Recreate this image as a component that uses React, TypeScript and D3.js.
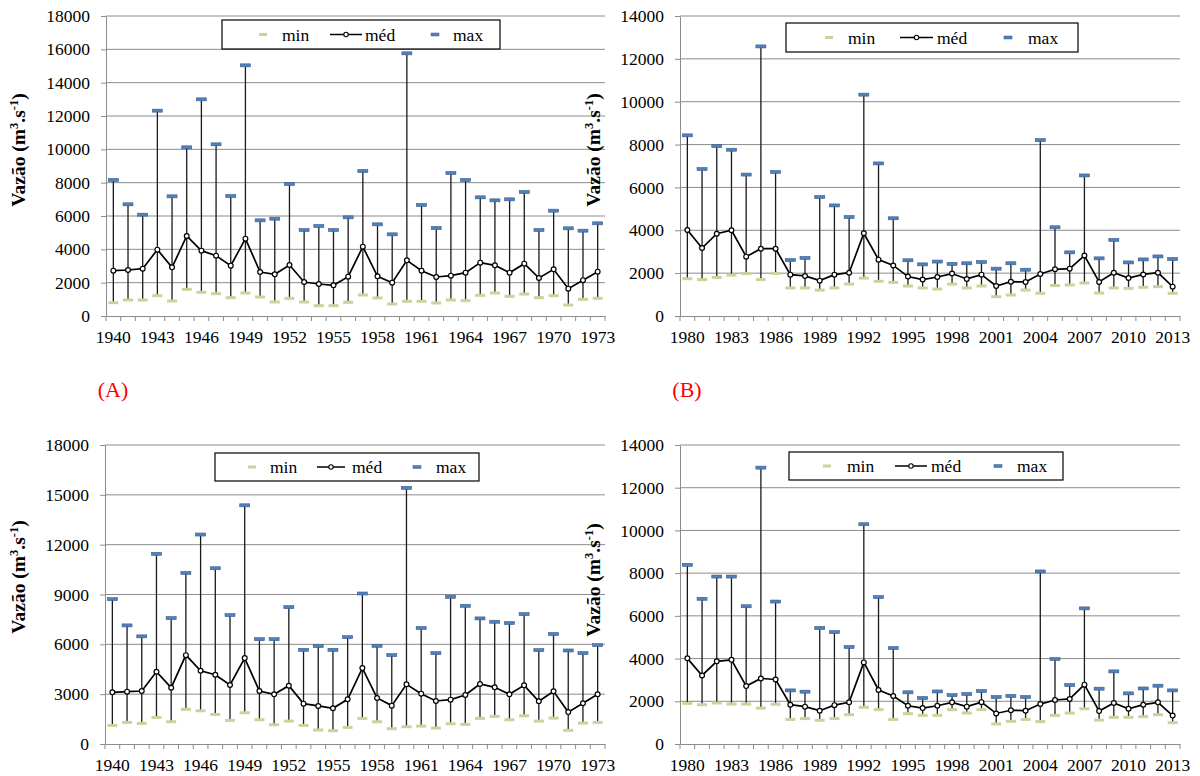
import React, { useRef, useEffect } from 'react';
import * as d3 from 'd3';

// categories
const yearsEarly = [
  1940, 1941, 1942, 1943, 1944, 1945, 1946, 1947, 1948, 1949,
  1950, 1951, 1952, 1953, 1954, 1955, 1956, 1957, 1958, 1959,
  1960, 1961, 1962, 1963, 1964, 1965, 1966, 1967, 1968, 1969,
  1970, 1971, 1972, 1973
];
const yearsLate = [
  1980, 1981, 1982, 1983, 1984, 1985, 1986, 1987, 1988, 1989,
  1990, 1991, 1992, 1993, 1994, 1995, 1996, 1997, 1998, 1999,
  2000, 2001, 2002, 2003, 2004, 2005, 2006, 2007, 2008, 2009,
  2010, 2011, 2012, 2013
];

// tick labels
const ticks18k2 = [0, 2000, 4000, 6000, 8000, 10000, 12000, 14000, 16000, 18000];
const ticks18k3 = [0, 3000, 6000, 9000, 12000, 15000, 18000];
const ticks14k = [0, 2000, 4000, 6000, 8000, 10000, 12000, 14000];

// panel A
const maxA = [
  8160, 6700, 6080, 12320, 7180, 10120, 13000, 10300, 7200, 15040,
  5740, 5840, 7920, 5160, 5400, 5160, 5920, 8700, 5500, 4900,
  15760, 6660, 5280, 8580, 8160, 7120, 6940, 7000, 7440, 5160,
  6320, 5260, 5120, 5560
];
const medA = [
  2720, 2760, 2840, 3980, 2920, 4800, 3920, 3620, 3020, 4640,
  2640, 2500, 3060, 2040, 1920, 1840, 2360, 4160, 2380, 2000,
  3340, 2720, 2340, 2420, 2600, 3200, 3040, 2600, 3140, 2280,
  2800, 1640, 2150, 2660
];
const minA = [
  800, 960, 960, 1220, 900, 1600, 1420, 1340, 1100, 1380,
  1140, 840, 1060, 840, 620, 620, 820, 1260, 1080, 720,
  880, 880, 780, 960, 920, 1240, 1380, 1180, 1320, 1100,
  1220, 660, 1000, 1060
];

// panel B
const maxB = [
  8430, 6860, 7930, 7760, 6600, 12580, 6720, 2610, 2710, 5550,
  5160, 4620, 10330, 7120, 4560, 2600, 2410, 2540, 2430, 2460,
  2520, 2210, 2460, 2160, 8210, 4140, 2970, 6560, 2690, 3550,
  2500, 2640, 2780, 2660
];
const medB = [
  4010, 3170, 3840, 4000, 2770, 3140, 3140, 1930, 1870, 1650,
  1930, 2020, 3860, 2630, 2360, 1840, 1700, 1820, 1980, 1730,
  1930, 1400, 1600, 1590, 1960, 2180, 2210, 2820, 1590, 2020,
  1770, 1940, 2020, 1370
];
const minB = [
  1740, 1700, 1800, 1910, 1980, 1700, 1990, 1310, 1310, 1210,
  1310, 1490, 1770, 1620, 1570, 1400, 1310, 1260, 1490, 1310,
  1400, 900, 980, 1210, 1060, 1420, 1450, 1540, 1070, 1310,
  1290, 1340, 1370, 1060
];

// panel C
const maxC = [
  8720, 7140, 6480, 11450, 7580, 10300, 12610, 10580, 7760, 14370,
  6310, 6310, 8240, 5670, 5890, 5670, 6430, 9060, 5910, 5350,
  15420, 6980, 5470, 8860, 8320, 7560, 7360, 7280, 7820, 5650,
  6620, 5630, 5470, 5950
];
const medC = [
  3110, 3150, 3190, 4350, 3390, 5350, 4410, 4170, 3550, 5170,
  3190, 2990, 3510, 2430, 2290, 2150, 2690, 4570, 2770, 2310,
  3590, 3030, 2590, 2670, 2950, 3610, 3410, 2990, 3530, 2570,
  3170, 1920, 2450, 2990
];
const minC = [
  1120, 1300, 1240, 1600, 1340, 2090, 2000, 1780, 1420, 1880,
  1460, 1160, 1380, 1120, 840, 800, 1000, 1540, 1340, 920,
  1040, 1080, 960, 1220, 1180, 1540, 1660, 1460, 1700, 1380,
  1560, 820, 1260, 1300
];

// panel D
const maxD = [
  8390, 6800, 7840, 7840, 6450, 12940, 6670, 2510, 2450, 5430,
  5240, 4540, 10290, 6880, 4490, 2420, 2150, 2460, 2290, 2340,
  2480, 2200, 2250, 2200, 8080, 3980, 2760, 6350, 2590, 3400,
  2370, 2600, 2730, 2510
];
const medD = [
  4010, 3210, 3870, 3940, 2710, 3070, 3020, 1840, 1750, 1560,
  1820, 1950, 3820, 2530, 2250, 1790, 1680, 1790, 1950, 1750,
  1960, 1430, 1580, 1560, 1870, 2060, 2110, 2780, 1540, 1920,
  1650, 1840, 1950, 1330
];
const minD = [
  1900, 1840, 1920, 1870, 1870, 1680, 1860, 1150, 1190, 1110,
  1190, 1370, 1720, 1610, 1150, 1420, 1340, 1340, 1610, 1450,
  1610, 940, 1060, 1150, 1050, 1340, 1450, 1650, 1120, 1250,
  1250, 1280, 1370, 1000
];

const FONT = "'Liberation Serif', 'Times New Roman', serif";
const GRID = '#8c8c8c';
const GREEN = '#c4d79b';
const BLUE = '#4f81bd';

const panels = [
  {
    cats: yearsEarly, mins: minA, meds: medA, maxs: maxA, yMax: 18000, ticks: ticks18k2,
    left: 106, right: 605, top: 16, bottom: 316, titleX: 18, titleY: 150,
    legend: { x: 222, y: 20, w: 278, h: 29, minX: 41, minT: 60, medX0: 108, medX1: 140, medT: 143, maxX: 213, maxT: 231 },
    tag: '(A)', tagX: 113
  },
  {
    cats: yearsLate, mins: minB, meds: medB, maxs: maxB, yMax: 14000, ticks: ticks14k,
    left: 680, right: 1180, top: 16, bottom: 316, titleX: 593, titleY: 150,
    legend: { x: 786, y: 23, w: 292, h: 29, minX: 43, minT: 62, medX0: 114, medX1: 147, medT: 151, maxX: 222, maxT: 242 },
    tag: '(B)', tagX: 687
  },
  {
    cats: yearsEarly, mins: minC, meds: medC, maxs: maxC, yMax: 18000, ticks: ticks18k3,
    left: 105, right: 605, top: 445, bottom: 744, titleX: 18, titleY: 577,
    legend: { x: 215, y: 453, w: 264, h: 28, minX: 37, minT: 55, medX0: 102, medX1: 130, medT: 137, maxX: 202, maxT: 221 },
    tag: null, tagX: 0
  },
  {
    cats: yearsLate, mins: minD, meds: medD, maxs: maxD, yMax: 14000, ticks: ticks14k,
    left: 680, right: 1180, top: 445, bottom: 744, titleX: 593, titleY: 580,
    legend: { x: 789, y: 452, w: 274, h: 28, minX: 38, minT: 58, medX0: 106, medX1: 138, medT: 142, maxX: 209, maxT: 228 },
    tag: null, tagX: 0
  }
];

const App = () => {
  const ref = useRef<SVGSVGElement>(null);

  useEffect(() => {
    const svg = d3.select(ref.current);
    svg.selectAll('*').remove();

    panels.forEach(p => {
      const g = svg.append('g');
      const x = d3.scaleBand().domain(p.cats.map(String)).range([p.left, p.right]);
      const y = d3.scaleLinear().domain([0, p.yMax]).range([p.bottom, p.top]);
      const cx = (c: number) => (x(String(c)) as number) + x.bandwidth() / 2;

      // gridlines
      g.append('g')
        .selectAll('line')
        .data(p.ticks.filter(t => t > 0))
        .join('line')
        .attr('x1', p.left)
        .attr('x2', p.right)
        .attr('y1', d => y(d))
        .attr('y2', d => y(d))
        .attr('stroke', GRID)
        .attr('stroke-width', 1);

      // y axis
      const ya = g.append('g')
        .attr('transform', `translate(${p.left},0)`)
        .call(d3.axisLeft(y).tickValues(p.ticks).tickSize(5).tickSizeOuter(0).tickPadding(11).tickFormat(d3.format('d')));
      ya.selectAll('path,line').attr('stroke', GRID);
      ya.selectAll('text').attr('font-family', FONT).attr('font-size', 17.5).attr('fill', '#000');

      // x axis
      const xa = g.append('g')
        .attr('transform', `translate(0,${p.bottom})`)
        .call(d3.axisBottom(x).tickValues(p.cats.filter((_, i) => i % 3 === 0).map(String)).tickSize(0).tickSizeOuter(0).tickPadding(15));
      xa.select('.domain').attr('stroke', GRID);
      xa.selectAll('text').attr('font-family', FONT).attr('font-size', 17.5).attr('fill', '#000');
      g.append('g')
        .selectAll('line')
        .data([...p.cats.map(c => x(String(c)) as number), p.right])
        .join('line')
        .attr('x1', d => d)
        .attr('x2', d => d)
        .attr('y1', p.bottom)
        .attr('y2', p.bottom + 5)
        .attr('stroke', GRID);

      // high-low lines
      g.append('g')
        .selectAll('line')
        .data(p.cats)
        .join('line')
        .attr('x1', c => cx(c))
        .attr('x2', c => cx(c))
        .attr('y1', (_, i) => y(p.mins[i]))
        .attr('y2', (_, i) => y(p.maxs[i]))
        .attr('stroke', '#1a1a1a')
        .attr('stroke-width', 1.3);

      // min caps
      g.append('g')
        .selectAll('rect')
        .data(p.cats)
        .join('rect')
        .attr('x', c => cx(c) - 5)
        .attr('y', (_, i) => y(p.mins[i]) - 1.5)
        .attr('width', 10)
        .attr('height', 3)
        .attr('fill', GREEN);

      // max caps
      g.append('g')
        .selectAll('rect')
        .data(p.cats)
        .join('rect')
        .attr('x', c => cx(c) - 5)
        .attr('y', (_, i) => y(p.maxs[i]) - 1.5)
        .attr('width', 10)
        .attr('height', 3)
        .attr('fill', BLUE)
        .attr('stroke', '#385d8a')
        .attr('stroke-width', 0.6);

      // median line
      const line = d3.line<number>().x(c => cx(c)).y((_, i) => y(p.meds[i]));
      g.append('path')
        .attr('d', line(p.cats))
        .attr('fill', 'none')
        .attr('stroke', '#000')
        .attr('stroke-width', 1.7);
      g.append('g')
        .selectAll('circle')
        .data(p.cats)
        .join('circle')
        .attr('cx', c => cx(c))
        .attr('cy', (_, i) => y(p.meds[i]))
        .attr('r', 2.4)
        .attr('fill', '#fff')
        .attr('stroke', '#000')
        .attr('stroke-width', 1.2);

      // y title
      const t = g.append('text')
        .attr('transform', `translate(${p.titleX},${p.titleY}) rotate(-90)`)
        .attr('text-anchor', 'middle')
        .attr('dy', '0.35em')
        .attr('font-family', FONT)
        .attr('font-weight', 'bold')
        .attr('font-size', 19.5);
      t.append('tspan').text('Vazão (m');
      t.append('tspan').attr('font-size', 12.5).attr('dy', -7).text('3');
      t.append('tspan').attr('dy', 7).text('.s');
      t.append('tspan').attr('font-size', 12.5).attr('dy', -7).text('-1');
      t.append('tspan').attr('dy', 7).text(')');

      // legend
      const L = p.legend;
      const lg = g.append('g').attr('transform', `translate(${L.x},${L.y})`);
      lg.append('rect').attr('width', L.w).attr('height', L.h).attr('fill', '#fff').attr('stroke', '#000').attr('stroke-width', 1.2);
      const my = L.h / 2;
      lg.append('rect').attr('x', L.minX - 4).attr('y', my - 1.5).attr('width', 8).attr('height', 3).attr('fill', GREEN);
      lg.append('rect').attr('x', L.maxX - 4).attr('y', my - 1.5).attr('width', 8).attr('height', 3).attr('fill', BLUE).attr('stroke', '#385d8a').attr('stroke-width', 0.5);
      lg.append('line').attr('x1', L.medX0).attr('x2', L.medX1).attr('y1', my).attr('y2', my).attr('stroke', '#000').attr('stroke-width', 1.5);
      lg.append('circle').attr('cx', (L.medX0 + L.medX1) / 2).attr('cy', my).attr('r', 2.2).attr('fill', '#fff').attr('stroke', '#000').attr('stroke-width', 1.1);
      [['min', L.minT], ['méd', L.medT], ['max', L.maxT]].forEach(([s, tx]) => {
        lg.append('text')
          .attr('x', tx as number)
          .attr('y', my)
          .attr('dy', '0.35em')
          .attr('font-family', FONT)
          .attr('font-size', 17.5)
          .text(s as string);
      });

      // panel tag
      if (p.tag) {
        svg.append('text')
          .attr('x', p.tagX)
          .attr('y', 397)
          .attr('text-anchor', 'middle')
          .attr('font-family', FONT)
          .attr('font-size', 22)
          .attr('fill', '#ff0000')
          .text(p.tag);
      }
    });
  }, []);

  return (
    <svg
      ref={ref}
      width={1200}
      height={776}
      style={{ position: 'absolute', left: 0, top: 0, display: 'block', background: '#fff' }}
    />
  );
};

export default App;
